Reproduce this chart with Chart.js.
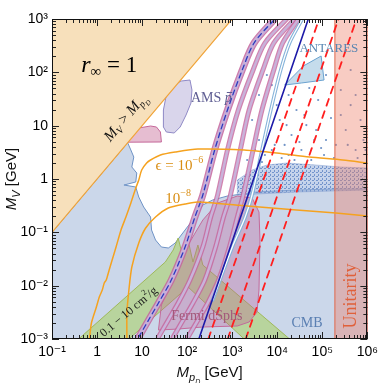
<!DOCTYPE html>
<html><head><meta charset="utf-8">
<script src="https://cdn.jsdelivr.net/npm/chart.js@4.4.0/dist/chart.umd.min.js"></script>
<style>html,body{margin:0;padding:0;background:#fff;}</style>
</head><body>
<canvas id="c" width="383" height="383"></canvas>
<script>
// All shapes as [log10(M_pD/GeV), log10(M_V/GeV)] pairs
const xTickValues = [1e-1, 1, 10, 1e2, 1e3, 1e4, 1e5, 1e6];
const xTickLabels = ['10⁻¹', '1', '10', '10²', '10³', '10⁴', '10⁵', '10⁶'];
const yTickValues = [1e-3, 1e-2, 1e-1, 1, 10, 1e2, 1e3];
const yTickLabels = ['10⁻³', '10⁻²', '10⁻¹', '1', '10', '10²', '10³'];

const kinematicRegion = [[-1,-1],[-1,3],[3,3]];
const cmbRegion = [[-1,-3],[-1,-1],[0.68,0.68],[0.750,0.544],[0.816,0.412],[0.772,0.225],[0.882,0.112],[0.860,-0.056],[0.597,-0.113],[0.860,-0.150],[0.926,-0.338],[1.035,-0.525],[1.188,-0.713],[1.210,-0.956],[1.298,-1.144],[1.429,-1.275],[1.582,-1.294],[1.735,-1.200],[1.954,-0.956],[2.173,-0.713],[2.348,-0.488],[2.567,-0.394],[2.895,-0.319],[3.551,-0.244],[4.427,-0.206],[5.302,-0.188],[6,-0.188],[6,-3]];
const cmbDenseBand = [[3.114,-0.019],[3.442,0.169],[3.770,0.262],[4.208,0.300],[4.864,0.262],[5.411,0.225],[6,0.206],[6,-0.206],[4.427,-0.244],[3.551,-0.281],[3.114,-0.300]];
const cmbScatter = [[3.595,0.731],[3.770,0.919],[3.880,0.544],[4.055,1.106],[4.164,0.638],[4.317,0.825],[4.427,1.294],[4.536,0.544],[4.646,1.012],[4.821,0.731],[4.908,1.481],[5.039,0.450],[5.193,1.144],[5.302,0.638],[5.521,0.919],[5.630,1.387],[5.740,0.544],[5.849,1.106],[5.915,0.731],[3.989,1.387],[4.252,1.575],[4.711,1.706],[4.383,0.356],[4.098,0.394],[3.726,0.450],[5.411,1.669],[5.083,1.950],[5.630,2.044],[5.740,1.575],[3.880,1.762],
  [3.333,0.356],[3.508,0.544],[3.661,0.319],[3.945,0.638],[4.252,0.450],[4.492,0.694],[4.755,0.356],[4.974,0.581],[5.258,0.394],[5.565,0.638],[5.784,0.394],[5.959,0.544],[3.442,1.106],[3.595,1.575],[3.770,1.950],[4.208,1.012],[4.602,1.200],[4.864,0.919],[5.411,1.200],[5.083,0.731]];
const antaresRegion = [[4.164,1.762],[4.580,2.119],[4.974,2.306],[5.039,1.856],[4.536,1.800]];
const sidmBand = [[-0.409,-3],[1.516,-1.556],[1.691,-1.331],[1.801,-1.106],[1.910,-1.481],[2.020,-1.144],[2.129,-1.556],[2.239,-1.238],[2.348,-1.613],[4.274,-3],[3.267,-3],[2.020,-2.025],[0.707,-3]];
const fermiRegion = [[1.363,-2.832],[1.429,-2.363],[1.691,-1.800],[2.020,-1.238],[2.348,-0.769],[2.676,-0.450],[3.114,-0.319],[3.442,-0.356],[3.595,-0.619],[3.617,-1.144],[3.595,-2.081],[3.551,-2.494],[3.376,-2.681],[3.114,-2.756],[2.348,-2.775],[1.801,-2.813]];
const amsRegion = [[1.473,0.975],[1.473,1.294],[1.538,1.575],[1.648,1.725],[1.867,1.837],[2.063,1.856],[2.107,1.669],[2.085,1.425],[1.976,1.200],[1.845,0.975],[1.713,0.862],[1.538,0.881]];
const pinkRegion = [[0.69,0.69],[0.772,0.862],[0.926,0.956],[1.188,0.994],[1.319,0.975],[1.407,0.881],[1.429,0.694]];
const unitarityRegion = [[5.28,-3],[5.28,3],[6,3],[6,-3]];
const resonance1 = [[0.926,-2.963],[1.144,-2.644],[1.363,-2.325],[1.648,-1.894],[1.954,-1.275],[2.173,-0.713],[2.348,-0.300],[2.611,0.544],[2.895,1.294],[3.223,2.044],[3.486,2.550],[3.945,3.0]];
const resonance2 = [[1.363,-2.963],[1.582,-2.644],[1.801,-2.325],[2.063,-1.894],[2.348,-1.275],[2.523,-0.713],[2.676,-0.300],[2.895,0.544],[3.136,1.294],[3.464,2.044],[3.726,2.550],[4.208,3.0]];
const resonance3 = [[1.691,-2.963],[1.910,-2.644],[2.129,-2.325],[2.392,-1.894],[2.632,-1.275],[2.807,-0.713],[2.961,-0.300],[3.179,0.544],[3.376,1.294],[3.683,2.044],[3.923,2.550],[4.383,3.0]];
const resonance4 = [[2.020,-2.963],[2.239,-2.644],[2.457,-2.325],[2.698,-1.894],[2.939,-1.275],[3.114,-0.713],[3.245,-0.300],[3.464,0.544],[3.661,1.294],[3.923,2.044],[4.120,2.550],[4.470,3.0]];
const resonance5 = [[2.567,-2.269],[3.004,-1.275],[3.289,-0.713],[3.442,-0.300],[3.661,0.544],[3.858,1.294],[4.077,2.044],[4.274,2.550],[4.558,3.0]];
const eps6 = [[-0.168,-3],[-0.125,-2.700],[-0.015,-2.400],[0.050,-2.213],[0.116,-2.081],[0.160,-1.950],[0.204,-1.894],[0.269,-1.706],[0.335,-1.519],[0.422,-1.275],[0.532,-0.956],[0.641,-0.713],[0.751,-0.450],[0.860,-0.169],[0.926,-0.019],[0.991,0.169],[1.101,0.300],[1.188,0.356],[1.407,0.450],[1.735,0.506],[2.239,0.562],[3.267,0.544],[3.989,0.487],[4.711,0.412],[5.455,0.356],[6.0,0.300]];
const eps8 = [[0.663,-3],[0.663,-2.513],[0.707,-2.081],[0.772,-1.650],[0.926,-1.200],[1.079,-0.919],[1.298,-0.713],[1.582,-0.544],[1.954,-0.469],[2.239,-0.431],[3.333,-0.506],[4.427,-0.581],[5.302,-0.638],[6.0,-0.694]];
const blueLine = [[2.26,-3],[4.69,3]];
const redDashA = [[2.47,-3],[4.93,3]];
const redDashB = [[2.90,-3],[5.36,3]];
const redDashC = [[3.30,-3],[5.76,3]];

const toPts = a => a.map(([lx, ly]) => ({x: Math.pow(10, lx), y: Math.pow(10, ly)}));
const closed = a => { const p = toPts(a); p.push(p[0]); return p; };

// speckled texture for the dense CMB scan band
const patCanvas = document.createElement('canvas');
patCanvas.width = 4; patCanvas.height = 4;
const pc = patCanvas.getContext('2d');
pc.fillStyle = 'rgba(150,175,218,0.55)'; pc.fillRect(0, 0, 4, 4);
pc.fillStyle = '#7495cc'; pc.fillRect(0, 0, 2, 1); pc.fillRect(2, 2, 1, 2);
const dotPattern = pc.createPattern(patCanvas, 'repeat');

const layers = [];
function region(arr, fillC, lineC, bw) {
  layers.push({data: closed(arr), fill: 'shape', backgroundColor: fillC, borderColor: lineC, borderWidth: bw, pointRadius: 0, tension: 0});
}
function curve(arr, c, bw, dash, tension) {
  layers.push({data: toPts(arr), fill: false, borderColor: c, borderWidth: bw, borderDash: dash || [], pointRadius: 0, tension: tension || 0, borderCapStyle: 'round', borderJoinStyle: 'round'});
}

region(cmbRegion, '#cbd7ea', '#6f93c6', 1);
region(cmbDenseBand, dotPattern, 'rgba(110,140,200,0.4)', 1);
layers.push({data: toPts(cmbScatter), showLine: false, pointRadius: 1.1, pointBackgroundColor: '#7093c6', pointBorderWidth: 0});
region(antaresRegion, 'rgba(140,185,218,0.5)', '#6aa2cf', 1);
region(sidmBand, '#b8d49d', '#9fb85a', 1);
region(fermiRegion, 'rgba(190,95,150,0.33)', '#c46a9b', 1);
curve(resonance1, 'rgba(198,100,155,0.85)', 7, null, 0.3);
curve(resonance1, '#c7aed8', 4.5, null, 0.3);
[resonance2, resonance3, resonance4].forEach(r => {
  curve(r, 'rgba(198,100,155,0.8)', 5, null, 0.3);
  curve(r, '#c9b2da', 2.5, null, 0.3);
});
curve(resonance1, '#2b3bbf', 1.3, [5, 4], 0.3);
curve(resonance5, '#86b4da', 3.5, null, 0.3);
curve(resonance5, '#ffffff', 1.3, null, 0.3);
region(amsRegion, '#d9d5eb', '#8f89c5', 1);
region(pinkRegion, '#e6bdd1', '#c5689a', 1);
region(kinematicRegion, '#f7e0bb', '#f0a43a', 1.2);
region(unitarityRegion, 'rgba(236,120,98,0.38)', '#e0674a', 1);
curve(eps6, '#f5a21f', 1.5, null, 0.25);
curve(eps8, '#f5a21f', 1.5, null, 0.25);
curve(blueLine, '#1d1aa8', 1.6);
[redDashA, redDashB, redDashC].forEach(r => curve(r, '#ff1f1f', 1.8, [7, 6]));
layers.forEach((d, i) => { d.order = 1000 - i; });

const SERIF = '"Liberation Serif", "DejaVu Serif", serif';
const SANS = '"Liberation Sans", "DejaVu Sans", sans-serif';
function rich(ctx, parts, x, y, align, angle, baseline) {
  ctx.save();
  ctx.translate(x, y);
  if (angle) ctx.rotate(angle);
  ctx.textBaseline = baseline || 'alphabetic';
  ctx.textAlign = 'left';
  let w = 0;
  parts.forEach(p => { ctx.font = p.f; w += ctx.measureText(p.t).width; });
  let cx = align === 'center' ? -w / 2 : 0;
  parts.forEach(p => {
    ctx.font = p.f; ctx.fillStyle = p.c;
    ctx.fillText(p.t, cx, p.dy || 0);
    const tw = ctx.measureText(p.t).width;
    if (p.bar) { ctx.strokeStyle = p.c; ctx.lineWidth = 1; ctx.beginPath(); ctx.moveTo(cx + 2, (p.dy||0) - 9.5); ctx.lineTo(cx + tw + 0.5, (p.dy||0) - 9.5); ctx.stroke(); }
    cx += tw;
  });
  ctx.restore();
}

const deco = {
  id: 'deco',
  afterDatasetsDraw(chart) {
    const {ctx, scales: {x, y}} = chart;
    const P = (lx, ly) => [x.getPixelForValue(Math.pow(10, lx)), y.getPixelForValue(Math.pow(10, ly))];
    const diag = Math.atan2(y.getPixelForValue(100) - y.getPixelForValue(1), x.getPixelForValue(100) - x.getPixelForValue(1));
    let p;
    p = P(0.269, 2.006);
    rich(ctx, [{t: 'r', f: 'italic 24px ' + SERIF, c: '#000'}, {t: '∞', f: '15px ' + SERIF, c: '#000', dy: 4}, {t: ' = 1', f: '23px ' + SERIF, c: '#000'}], p[0], p[1], 'center');
    p = P(0.70, 1.10);
    rich(ctx, [{t: 'M', f: 'italic 15px ' + SERIF, c: '#111'}, {t: 'V', f: 'italic 10px ' + SERIF, c: '#111', dy: 3}, {t: ' > ', f: '15px ' + SERIF, c: '#111'}, {t: 'M', f: 'italic 15px ' + SERIF, c: '#111'}, {t: 'p', f: 'italic 10px ' + SERIF, c: '#111', dy: 3}, {t: 'D', f: 'italic 7px ' + SERIF, c: '#111', dy: 6}], p[0], p[1], 'center', diag, 'alphabetic');
    p = P(1.298, 0.169);
    rich(ctx, [{t: 'ϵ = 10', f: '15px ' + SERIF, c: '#d98d12'}, {t: '−6', f: '10px ' + SERIF, c: '#d98d12', dy: -7}], p[0], p[1], 'left');
    p = P(1.516, -0.450);
    rich(ctx, [{t: '10', f: '15px ' + SERIF, c: '#d98d12'}, {t: '−8', f: '10px ' + SERIF, c: '#d98d12', dy: -7}], p[0], p[1], 'left');
    p = P(2.085, 1.444);
    rich(ctx, [{t: 'AMS ', f: '14px ' + SERIF, c: '#5f5e93'}, {t: 'p', f: 'italic 14px ' + SERIF, c: '#5f5e93', bar: true}], p[0], p[1], 'left');
    p = P(4.492, 2.381);
    rich(ctx, [{t: 'ANTARES', f: '13px ' + SERIF, c: '#5a86b2'}], p[0], p[1], 'left');
    p = P(1.648, -2.644);
    rich(ctx, [{t: 'Fermi dSphs', f: '14px ' + SERIF, c: '#a3587a'}], p[0], p[1], 'left');
    p = P(4.317, -2.775);
    rich(ctx, [{t: 'CMB', f: '14px ' + SERIF, c: '#5a7fb2'}], p[0], p[1], 'left');
    p = P(5.652, -2.194);
    rich(ctx, [{t: 'Unitarity', f: '18px ' + SERIF, c: '#e0603a'}], p[0], p[1], 'center', -Math.PI / 2, 'middle');
    p = P(0.707, -2.494);
    rich(ctx, [{t: '0.1 − 10 cm', f: '12px ' + SERIF, c: '#1a1a1a'}, {t: '2', f: '8px ' + SERIF, c: '#1a1a1a', dy: -5}, {t: '/g', f: '12px ' + SERIF, c: '#1a1a1a'}], p[0], p[1], 'center', -0.70, 'middle');
  },
  afterDraw(chart) {
    const {ctx, chartArea: a, scales: {x, y}} = chart;
    ctx.save();
    ctx.strokeStyle = '#222'; ctx.lineWidth = 1;
    const seg = (x1, y1, x2, y2) => { ctx.beginPath(); ctx.moveTo(x1, y1); ctx.lineTo(x2, y2); ctx.stroke(); };
    for (let d = -1; d <= 6; d++) for (let m = 1; m < 10; m++) {
      if (d === 6 && m > 1) break;
      const px = Math.round(x.getPixelForValue(m * Math.pow(10, d))) + 0.5;
      const L = m === 1 ? 7 : 4;
      seg(px, a.bottom, px, a.bottom - L); seg(px, a.top, px, a.top + L);
    }
    for (let d = -3; d <= 3; d++) for (let m = 1; m < 10; m++) {
      if (d === 3 && m > 1) break;
      const py = Math.round(y.getPixelForValue(m * Math.pow(10, d))) + 0.5;
      const L = m === 1 ? 7 : 4;
      seg(a.left, py, a.left + L, py); seg(a.right, py, a.right - L, py);
    }
    ctx.strokeStyle = '#111';
    ctx.strokeRect(Math.round(a.left) + 0.5, Math.round(a.top) + 0.5, Math.round(a.right - a.left) - 1, Math.round(a.bottom - a.top) - 1);
    ctx.restore();
    rich(ctx, [{t: 'M', f: 'italic 15px ' + SANS, c: '#111'}, {t: 'p', f: 'italic 11px ' + SANS, c: '#111', dy: 4}, {t: 'D', f: 'italic 7px ' + SANS, c: '#111', dy: 7}, {t: ' [GeV]', f: '15px ' + SANS, c: '#111'}], (a.left + a.right) / 2, 377, 'center');
    rich(ctx, [{t: 'M', f: 'italic 15px ' + SANS, c: '#111'}, {t: 'V', f: 'italic 11px ' + SANS, c: '#111', dy: 4}, {t: ' [GeV]', f: '15px ' + SANS, c: '#111'}], 16, (a.top + a.bottom) / 2, 'center', -Math.PI / 2);
  }
};

new Chart(document.getElementById('c'), {
  type: 'line',
  data: {datasets: layers},
  options: {
    responsive: false, animation: false, devicePixelRatio: 1,
    layout: {padding: {top: 19, right: 11, left: 0, bottom: 0}},
    plugins: {legend: {display: false}, tooltip: {enabled: false}},
    elements: {line: {capBezierPoints: false}},
    scales: {
      x: {type: 'logarithmic', min: 0.1, max: 1e6, grid: {display: false, drawTicks: false}, border: {display: false},
          afterBuildTicks: s => { s.ticks = xTickValues.map(v => ({value: v})); },
          afterFit: s => { s.height = 44; },
          ticks: {autoSkip: false, maxRotation: 0, padding: 5, color: '#000', font: {family: SANS, size: 14}, callback: (v, i) => xTickLabels[i]}},
      y: {type: 'logarithmic', min: 1e-3, max: 1e3, grid: {display: false, drawTicks: false}, border: {display: false},
          afterBuildTicks: s => { s.ticks = yTickValues.map(v => ({value: v})); },
          afterFit: s => { s.width = 52; },
          ticks: {autoSkip: false, padding: 4, color: '#000', font: {family: SANS, size: 14}, callback: (v, i) => yTickLabels[i]}}
    }
  },
  plugins: [deco]
});
</script>
</body></html>
